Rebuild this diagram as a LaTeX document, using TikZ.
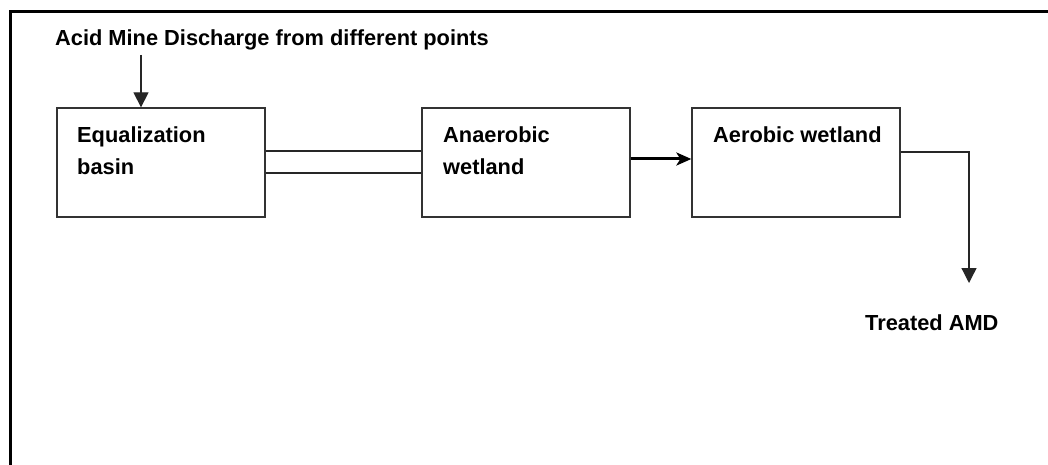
\documentclass[tikz,border=0pt]{standalone}
\usepackage{fontspec}
\setmainfont{Liberation Sans}
\usetikzlibrary{arrows.meta}
\begin{document}
\begin{tikzpicture}[x=1pt,y=-1pt,
  stagebox/.style={draw=black!80,line width=1.3pt,minimum width=208pt,minimum height=109pt,inner sep=0pt},
  lbl/.style={font=\fontsize{21.8}{32}\selectfont\bfseries,inner sep=0pt,anchor=base west,align=left},
  flow/.style={draw=black!85,line width=1.3pt},
  bigtip/.style={-{Triangle[width=15pt,length=15pt]}},
  midtip/.style={-{Stealth[width=13pt,length=15pt,inset=4pt]}}]
\useasboundingbox (0,0) rectangle (1048,465);
\fill[white] (0,0) rectangle (1048,465);
% outer frame (open to right and bottom)
\draw[line width=3pt] (10,480) -- (10,12) -- (1060,12);
% title
\node[lbl] (title) at (55,46) {Acid Mine Discharge from different points};
\coordinate (tin) at (141,55);
% boxes
\node[stagebox] (eq) at (161,162.5) {};
\node[stagebox] (an) at (526,162.5) {};
\node[stagebox] (ae) at (796,162.5) {};
\node[lbl] (eqt) at (77,175) {Equalization\\basin};
\node[lbl] (ant) at (443,175) {Anaerobic\\wetland};
\node[lbl] (aet) at (713,143) {Aerobic wetland};
% connectors
\draw[flow,bigtip] (tin) -- (eq.north -| tin);
\draw[flow] ([yshift=11.5pt]eq.east) -- ([yshift=11.5pt]an.west);
\draw[flow] ([yshift=-10.5pt]eq.east) -- ([yshift=-10.5pt]an.west);
\draw[flow,draw=black,line width=3pt,midtip] ([yshift=3.5pt]an.east) -- ([yshift=3.5pt]ae.west);
\coordinate (outend) at (969,283);
\draw[flow,bigtip] ([yshift=10.5pt]ae.east) -| (outend);
\node[lbl] (treated) at (865,330) {Treated AMD};
\end{tikzpicture}
\end{document}
